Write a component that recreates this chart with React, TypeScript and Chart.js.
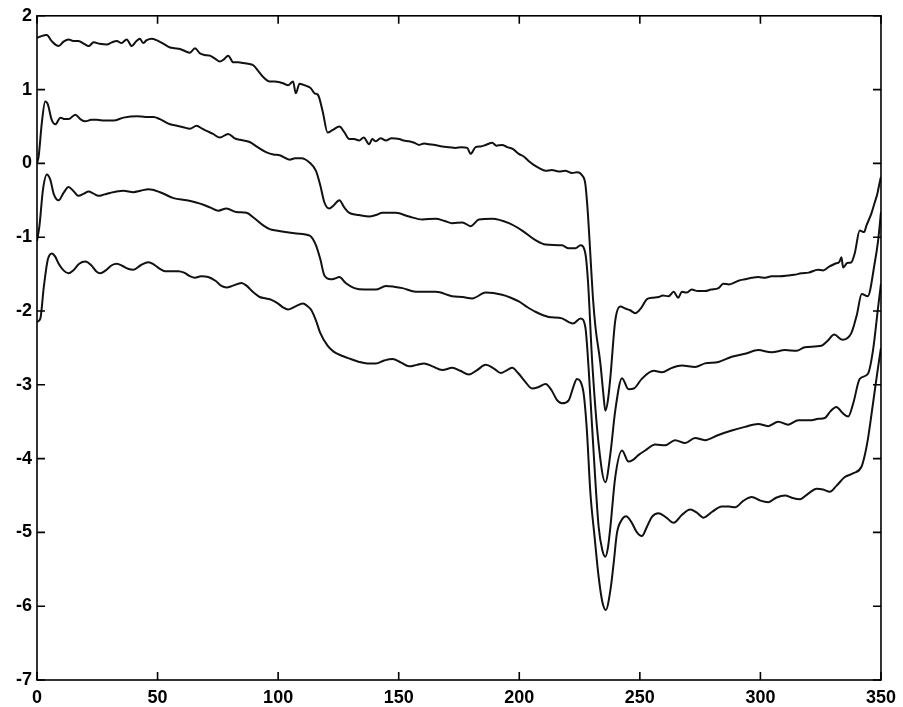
import React, { useEffect, useRef } from "react";
import { Chart, registerables } from "chart.js";

Chart.register(...registerables);

// x-axis / y-axis tick ranges
const xTickRange = [0, 350];
const yTickRange = [-7, 2];

// Series 1 (top, noisy)
const xA = [0, 1.4, 4.1, 6, 9.0, 11, 13.1, 15, 17.2, 19.5, 21.4, 23.5, 26, 29, 31, 33.1, 35, 37.2, 39.3, 41, 42.7, 44, 45.5, 47.6, 49.6, 52, 55.2, 57, 59.3, 61.5, 63.4, 65.5, 67.6, 69.5, 71.7, 73.8, 75.8, 77.5, 79.3, 81.4, 83.5, 85.5, 87.5, 89.7, 91.8, 93.8, 96.5, 98.5, 100.7, 102.5, 104.1, 106.2, 107.3, 108.9, 111.7, 113.5, 115.1, 116.5, 118.5, 120.5, 122.5, 125.4, 127.5, 129.5, 131.5, 133.6, 135.5, 137.8, 139, 140.5, 142.5, 144.7, 147, 150.2, 152, 154.3, 156.5, 158.5, 160.5, 162.6, 165, 168.1, 171, 173.6, 176, 178.4, 179.8, 181.9, 184, 186.1, 188.8, 190.5, 192.9, 195, 197.1, 199.8, 202, 204, 206, 208.1, 210.9, 213.5, 216.4, 219, 221.9, 224, 226, 227.4, 228.5, 229.5, 230.5, 231.6, 233.6, 234.8, 235.7, 236.8, 237.8, 239.8, 241.9, 244.2, 246, 248.1, 250.5, 252.9, 255, 257.8, 259.5, 261.9, 264, 265.9, 267.4, 269.5, 271.5, 274, 277, 279.5, 282.6, 284.6, 287, 290.9, 293.5, 296.4, 299.1, 302, 304.6, 308, 311.5, 314, 317, 320, 323.9, 326, 328.5, 330.9, 332.8, 333.6, 334.3, 336, 337.7, 339.1, 341.2, 343, 344, 346, 347.4, 348.5, 349.5, 350];
const yA = [1.70, 1.72, 1.74, 1.66, 1.59, 1.65, 1.68, 1.66, 1.66, 1.62, 1.59, 1.64, 1.62, 1.61, 1.64, 1.66, 1.63, 1.68, 1.59, 1.65, 1.69, 1.63, 1.67, 1.69, 1.67, 1.63, 1.57, 1.56, 1.55, 1.52, 1.50, 1.56, 1.49, 1.47, 1.46, 1.42, 1.38, 1.41, 1.46, 1.37, 1.37, 1.36, 1.35, 1.33, 1.25, 1.17, 1.11, 1.11, 1.10, 1.08, 1.06, 1.11, 0.95, 1.08, 1.05, 1.02, 0.95, 0.93, 0.70, 0.42, 0.45, 0.50, 0.42, 0.33, 0.33, 0.31, 0.35, 0.26, 0.33, 0.30, 0.34, 0.31, 0.34, 0.33, 0.31, 0.30, 0.28, 0.25, 0.27, 0.26, 0.25, 0.23, 0.22, 0.21, 0.22, 0.21, 0.13, 0.22, 0.23, 0.25, 0.28, 0.24, 0.25, 0.22, 0.20, 0.13, 0.09, 0.03, -0.02, -0.06, -0.10, -0.09, -0.11, -0.10, -0.13, -0.12, -0.16, -0.28, -0.70, -1.25, -1.80, -2.22, -2.70, -3.10, -3.35, -3.20, -2.89, -2.13, -1.94, -1.97, -1.99, -2.03, -1.96, -1.84, -1.82, -1.81, -1.79, -1.80, -1.74, -1.82, -1.74, -1.75, -1.71, -1.73, -1.73, -1.71, -1.69, -1.63, -1.64, -1.59, -1.57, -1.55, -1.54, -1.55, -1.53, -1.53, -1.52, -1.51, -1.49, -1.48, -1.44, -1.45, -1.40, -1.36, -1.33, -1.27, -1.41, -1.35, -1.34, -1.22, -0.91, -0.93, -0.84, -0.68, -0.53, -0.41, -0.25, -0.18];

// Series 2
const xB = [0, 0.7, 2, 3.4, 4.5, 6, 7.6, 9.7, 11.5, 13.1, 15.9, 18, 20, 22.5, 24.8, 28, 31.7, 35.9, 41.4, 45, 48.3, 51, 55.2, 58, 60.7, 63.4, 66.2, 68.5, 70.3, 73, 75.8, 79.3, 82, 84.1, 88.2, 91.5, 95.2, 98, 100.7, 104.8, 107, 109.6, 113.1, 115.7, 117.5, 119.2, 121.2, 123, 125.4, 127.5, 129.5, 133.6, 137.8, 140.5, 143.3, 148.8, 154.3, 159.8, 165.4, 169, 172.2, 176.4, 179.8, 183.3, 188.8, 195.7, 201.2, 206.7, 210.9, 217.7, 220.5, 223.3, 225.4, 227.4, 228.5, 230.2, 232.9, 235.7, 237.8, 239.8, 242.6, 245.3, 247.5, 250.8, 255.7, 259.1, 263.3, 267.4, 272.9, 277, 282.6, 288.1, 293.6, 299.1, 304.6, 310.2, 315, 318.4, 325.3, 328, 330.6, 334, 337.7, 340, 342, 344.5, 347.4, 348.8, 350];
const yB = [0.0, 0.10, 0.55, 0.84, 0.80, 0.60, 0.53, 0.62, 0.60, 0.60, 0.66, 0.60, 0.57, 0.59, 0.59, 0.58, 0.58, 0.62, 0.64, 0.63, 0.63, 0.60, 0.53, 0.51, 0.49, 0.47, 0.51, 0.47, 0.44, 0.40, 0.35, 0.40, 0.34, 0.32, 0.29, 0.22, 0.15, 0.12, 0.11, 0.05, 0.07, 0.07, 0.01, -0.10, -0.30, -0.53, -0.61, -0.57, -0.50, -0.60, -0.67, -0.70, -0.72, -0.70, -0.67, -0.67, -0.72, -0.76, -0.75, -0.78, -0.81, -0.80, -0.85, -0.76, -0.75, -0.81, -0.91, -1.04, -1.10, -1.11, -1.15, -1.15, -1.11, -1.22, -1.60, -2.67, -3.80, -4.32, -3.93, -3.35, -2.91, -3.06, -3.05, -2.92, -2.81, -2.83, -2.77, -2.74, -2.76, -2.71, -2.69, -2.62, -2.58, -2.53, -2.56, -2.53, -2.54, -2.49, -2.47, -2.40, -2.32, -2.39, -2.30, -2.05, -1.77, -1.80, -1.35, -1.05, -0.66];

// Series 3
const xC = [0, 1, 2.5, 4.1, 5.5, 7, 9, 11, 13.1, 15, 17.2, 19.5, 21.4, 23.5, 25.5, 28, 30.3, 33, 35.9, 40, 43, 46.2, 51, 56.6, 62.1, 66, 69, 72, 75.2, 78.6, 82.7, 86.9, 90, 93.8, 96.5, 99.3, 103, 107.6, 113.1, 115.7, 117.5, 119.2, 121.9, 123.5, 125.4, 128, 131.6, 136, 140.5, 144.7, 148, 151.6, 157.1, 165.4, 172.2, 176.5, 180.5, 186.1, 192.9, 196.5, 199.8, 203, 206.7, 212.2, 217.7, 220.5, 222.3, 225.4, 227.4, 228.8, 230.2, 232.9, 234.5, 235.7, 236.8, 237.8, 239.8, 242.6, 245.3, 247, 249.5, 252.2, 256.4, 260.5, 264.6, 268.8, 272.9, 277, 282.6, 288.1, 293.6, 299.1, 303.2, 307.4, 311.5, 315.7, 321.2, 324, 326.7, 329, 331.5, 334, 336.4, 338.5, 341.2, 344.6, 346.7, 348.8, 350];
const yC = [-1.05, -0.85, -0.35, -0.15, -0.22, -0.42, -0.50, -0.40, -0.32, -0.37, -0.44, -0.41, -0.38, -0.41, -0.44, -0.42, -0.40, -0.38, -0.37, -0.39, -0.37, -0.35, -0.39, -0.47, -0.50, -0.53, -0.56, -0.60, -0.64, -0.61, -0.66, -0.67, -0.74, -0.84, -0.89, -0.91, -0.93, -0.95, -0.98, -1.11, -1.30, -1.52, -1.57, -1.56, -1.54, -1.62, -1.69, -1.71, -1.71, -1.66, -1.67, -1.69, -1.74, -1.74, -1.80, -1.81, -1.83, -1.75, -1.78, -1.82, -1.87, -1.94, -2.01, -2.08, -2.10, -2.15, -2.17, -2.10, -2.22, -2.80, -3.57, -4.92, -5.25, -5.33, -5.20, -4.92, -4.25, -3.89, -4.04, -4.02, -3.95, -3.89, -3.81, -3.82, -3.75, -3.79, -3.72, -3.75, -3.68, -3.62, -3.57, -3.53, -3.56, -3.50, -3.54, -3.48, -3.48, -3.46, -3.45, -3.36, -3.30, -3.38, -3.43, -3.25, -2.92, -2.85, -2.53, -1.95, -1.63];

// Series 4 (bottom)
const xD = [0, 1.4, 2.8, 4.5, 6.2, 7.5, 9, 11, 13.1, 15, 17.5, 20, 22.5, 24.5, 26.2, 28.5, 31, 33.1, 35.5, 38, 40, 43, 46.2, 48.5, 51, 53.1, 56, 58.6, 61, 63, 65.5, 68, 71, 74, 76.5, 78.6, 81, 84.8, 87, 89.5, 92.4, 95, 97.2, 100, 102, 104.1, 107, 110.3, 112, 113.8, 115.7, 117.5, 120.5, 123, 126.7, 130, 133.6, 137, 140.5, 144, 147.4, 151, 154.3, 157.5, 160.5, 164, 168.1, 172.2, 175.5, 179.1, 182.5, 186.1, 189.5, 192.3, 195, 197.1, 199.5, 202.5, 205.3, 208, 210.9, 213.5, 215.5, 217.7, 220.5, 222.5, 223.9, 225.3, 226.7, 228, 229.5, 231.2, 232.9, 234.5, 235.9, 237.8, 239.2, 240.5, 242.5, 244.3, 246.5, 248.8, 250.8, 253, 255, 257.8, 261, 264, 267.5, 270.9, 273.5, 276.4, 280, 284, 287, 289.5, 293, 296.4, 300, 303.3, 306.5, 310.2, 313, 316.4, 320, 323.3, 326, 328.8, 331.5, 335, 338.4, 341.9, 343.3, 344.5, 346.7, 348.8, 350];
const yD = [-2.15, -2.10, -1.68, -1.30, -1.22, -1.26, -1.36, -1.45, -1.49, -1.45, -1.36, -1.33, -1.38, -1.46, -1.49, -1.45, -1.38, -1.36, -1.39, -1.43, -1.44, -1.38, -1.34, -1.37, -1.43, -1.46, -1.46, -1.46, -1.48, -1.52, -1.55, -1.53, -1.54, -1.59, -1.66, -1.68, -1.66, -1.62, -1.66, -1.74, -1.81, -1.83, -1.85, -1.90, -1.95, -1.98, -1.94, -1.90, -1.93, -1.99, -2.13, -2.30, -2.47, -2.55, -2.61, -2.65, -2.69, -2.71, -2.71, -2.67, -2.65, -2.70, -2.75, -2.73, -2.71, -2.75, -2.80, -2.77, -2.81, -2.86, -2.80, -2.73, -2.78, -2.84, -2.80, -2.77, -2.84, -2.96, -3.05, -3.03, -2.99, -3.08, -3.20, -3.25, -3.21, -3.02, -2.92, -2.95, -3.12, -3.60, -4.47, -5.05, -5.60, -5.95, -6.05, -5.78, -5.40, -5.01, -4.83, -4.78, -4.86, -5.00, -5.05, -4.92, -4.79, -4.74, -4.80, -4.87, -4.76, -4.69, -4.73, -4.80, -4.72, -4.65, -4.65, -4.66, -4.57, -4.52, -4.57, -4.59, -4.53, -4.50, -4.53, -4.55, -4.47, -4.41, -4.42, -4.45, -4.37, -4.25, -4.20, -4.11, -3.95, -3.75, -3.25, -2.76, -2.50];

const seriesX = [xA, xB, xC, xD];
const seriesY = [yA, yB, yC, yD];

const FONT = { family: "'Liberation Sans', Arial, Helvetica, sans-serif", size: 18, weight: "bold" as const };

const framePlugin = {
  id: "matlabFrame",
  afterDatasetsDraw(chart: any) {
    const { ctx, chartArea, scales } = chart;
    const { left, right, top, bottom } = chartArea;
    const xs = scales.x;
    const ys = scales.y;
    const L = 8;
    ctx.save();
    ctx.strokeStyle = "#000";
    ctx.lineWidth = 1.6;
    ctx.strokeRect(left, top, right - left, bottom - top);
    ctx.beginPath();
    for (const t of xs.ticks) {
      const px = xs.getPixelForValue(t.value);
      ctx.moveTo(px, bottom);
      ctx.lineTo(px, bottom - L);
      ctx.moveTo(px, top);
      ctx.lineTo(px, top + L);
    }
    for (const t of ys.ticks) {
      const py = ys.getPixelForValue(t.value);
      ctx.moveTo(left, py);
      ctx.lineTo(left + L, py);
      ctx.moveTo(right, py);
      ctx.lineTo(right - L, py);
    }
    ctx.stroke();
    ctx.restore();
  },
};

export default function App() {
  const ref = useRef<HTMLCanvasElement | null>(null);

  useEffect(() => {
    if (!ref.current) return;
    const datasets = seriesX.map((xs, k) => ({
      data: xs.map((x, i) => ({ x, y: seriesY[k][i] })),
      borderColor: "#111",
      borderWidth: 2,
      pointRadius: 0,
      fill: false,
      cubicInterpolationMode: "monotone" as const,
    }));
    const chart = new Chart(ref.current, {
      type: "line",
      data: { datasets },
      options: {
        animation: false,
        responsive: false,
        maintainAspectRatio: false,
        layout: { padding: { top: 15, right: 20, left: 0, bottom: 0 } },
        plugins: { legend: { display: false }, tooltip: { enabled: false } },
        scales: {
          x: {
            type: "linear",
            min: xTickRange[0],
            max: xTickRange[1],
            grid: { display: false, drawTicks: false },
            border: { display: false },
            ticks: { stepSize: 50, color: "#000", font: FONT, padding: 7, maxRotation: 0 },
            afterFit(s: any) { s.height = 27; },
          },
          y: {
            type: "linear",
            min: yTickRange[0],
            max: yTickRange[1],
            grid: { display: false, drawTicks: false },
            border: { display: false },
            ticks: { stepSize: 1, color: "#000", font: FONT, padding: 5 },
            afterFit(s: any) { s.width = 37; },
          },
        },
      },
      plugins: [framePlugin],
    });
    return () => chart.destroy();
  }, []);

  return (
    <div style={{ position: "absolute", left: 0, top: 0, width: 903, height: 707, background: "#fff" }}>
      <canvas ref={ref} width={903} height={707} style={{ width: 903, height: 707 }} />
    </div>
  );
}
